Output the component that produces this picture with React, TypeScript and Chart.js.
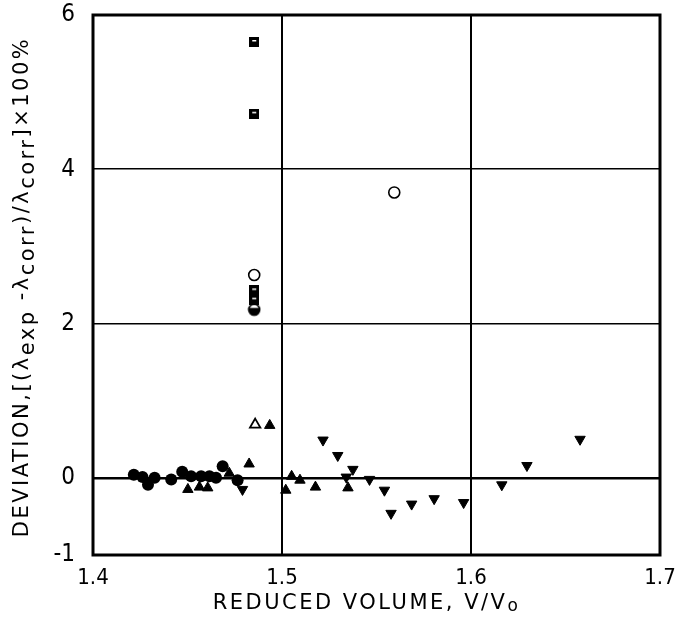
import React, { useEffect, useRef } from "react";
import { Chart, registerables } from "chart.js";
Chart.register(...registerables);

const FONT = "'DejaVu Sans Condensed', 'DejaVu Sans', sans-serif";
const TITLE_FONT = "'DejaVu Sans', sans-serif";

const xTicks = [1.4, 1.5, 1.6, 1.7];
const yTicks = [-1, 0, 2, 4, 6];

const filledCircleX = [1.4216, 1.4262, 1.4291, 1.4326, 1.4414, 1.4472, 1.4519, 1.4572, 1.4616, 1.4651, 1.4686, 1.4765];
const filledCircleY = [0.04, 0.01, -0.09, 0.0, -0.02, 0.08, 0.02, 0.02, 0.02, 0.0, 0.15, -0.03];

const upTriX = [1.4502, 1.4563, 1.4607, 1.4721, 1.4826, 1.4935, 1.502, 1.5051, 1.5095, 1.5177, 1.5349];
const upTriY = [-0.15, -0.12, -0.13, 0.06, 0.18, 0.68, -0.16, 0.02, -0.03, -0.12, -0.13];

const openTriX = [1.4858];
const openTriY = [0.69];

const downTriX = [1.4791, 1.5217, 1.5295, 1.534, 1.5375, 1.5463, 1.5542, 1.5577, 1.5686, 1.5805, 1.5961, 1.6163, 1.6296, 1.6577];
const downTriY = [-0.15, 0.49, 0.29, 0.01, 0.11, -0.02, -0.16, -0.46, -0.34, -0.27, -0.32, -0.09, 0.16, 0.5];

const squareX = [1.4853, 1.4853, 1.4853, 1.4853];
const squareY = [5.65, 4.72, 2.43, 2.31];

const openCircleX = [1.4853, 1.5594];
const openCircleY = [2.63, 3.7];

const halfCircleX = [1.4853];
const halfCircleY = [2.18];

const xTitle = "REDUCED VOLUME, V/V";
const xTitleSub = "o";
const yTitleParts: [string, boolean][] = [
  ["DEVIATION,[(λ", false],
  ["exp", true],
  [" -λ", false],
  ["corr", true],
  [")/λ", false],
  ["corr", true],
  ["]×100%", false],
];

const pts = (xs: number[], ys: number[]) => xs.map((x, i) => ({ x, y: ys[i] }));

export default function App() {
  const ref = useRef<HTMLCanvasElement>(null);
  useEffect(() => {
    document.body.style.margin = "0";

    const half = document.createElement("canvas");
    half.width = 14;
    half.height = 14;
    const hc = half.getContext("2d")!;
    hc.beginPath();
    hc.arc(7, 7, 5.5, 0, Math.PI * 2);
    hc.fillStyle = "#fff";
    hc.fill();
    hc.beginPath();
    hc.arc(7, 7, 5.5, -0.3, Math.PI + 0.3);
    hc.closePath();
    hc.fillStyle = "#000";
    hc.fill();
    hc.beginPath();
    hc.arc(7, 7, 5.5, 0, Math.PI * 2);
    hc.lineWidth = 1.6;
    hc.strokeStyle = "#000";
    hc.stroke();

    const sq = document.createElement("canvas");
    sq.width = 10;
    sq.height = 10;
    const sc = sq.getContext("2d")!;
    sc.fillStyle = "#000";
    sc.fillRect(0, 0, 10, 10);
    sc.fillStyle = "#fff";
    sc.fillRect(3, 3, 4, 1.5);

    const framePlugin = {
      id: "frame",
      afterDraw(chart: any) {
        const { ctx, chartArea: a } = chart;
        ctx.save();
        ctx.strokeStyle = "#000";
        ctx.lineWidth = 3;
        ctx.strokeRect(a.left, a.top, a.right - a.left, a.bottom - a.top);
        ctx.restore();
      },
    };

    const titlePlugin = {
      id: "titles",
      afterDraw(chart: any) {
        const { ctx, chartArea: a } = chart;
        ctx.save();
        ctx.fillStyle = "#000";
        // y title
        ctx.font = `21px ${TITLE_FONT}`;
        (ctx as any).letterSpacing = "2.5px";
        let total = 0;
        for (const [t] of yTitleParts) total += ctx.measureText(t).width;
        ctx.translate(23, (a.top + a.bottom) / 2 + 2);
        ctx.rotate(-Math.PI / 2);
        ctx.textBaseline = "middle";
        ctx.textAlign = "left";
        let x = -total / 2;
        for (const [t, sub] of yTitleParts) {
          ctx.fillText(t, x, sub ? 6 : 0);
          x += ctx.measureText(t).width;
        }
        ctx.restore();

        // x title
        ctx.save();
        ctx.fillStyle = "#000";
        (ctx as any).letterSpacing = "2.5px";
        ctx.font = `21px ${TITLE_FONT}`;
        ctx.textBaseline = "middle";
        ctx.textAlign = "left";
        const w1 = ctx.measureText(xTitle).width;
        ctx.font = `17px ${TITLE_FONT}`;
        const w2 = ctx.measureText(xTitleSub).width;
        const cx = (a.left + a.right) / 2 - 10;
        const sx = cx - (w1 + w2) / 2;
        ctx.font = `21px ${TITLE_FONT}`;
        ctx.fillText(xTitle, sx, 604);
        ctx.font = `17px ${TITLE_FONT}`;
        ctx.fillText(xTitleSub, sx + w1, 607);
        ctx.restore();
      },
    };

    const chart = new Chart(ref.current!, {
      type: "scatter",
      data: {
        datasets: [
          {
            data: pts(filledCircleX, filledCircleY),
            pointStyle: "circle",
            pointRadius: 6,
            backgroundColor: "#000",
            borderColor: "#000",
            borderWidth: 0,
          },
          {
            data: pts(upTriX, upTriY),
            pointStyle: "triangle",
            pointRadius: 6,
            backgroundColor: "#000",
            borderColor: "#000",
            borderWidth: 1,
          },
          {
            data: pts(downTriX, downTriY),
            pointStyle: "triangle",
            pointRotation: 180,
            pointRadius: 6,
            backgroundColor: "#000",
            borderColor: "#000",
            borderWidth: 1,
          },
          {
            data: pts(openTriX, openTriY),
            pointStyle: "triangle",
            pointRadius: 6,
            backgroundColor: "#fff",
            borderColor: "#000",
            borderWidth: 1.8,
          },
          {
            data: pts(squareX, squareY),
            pointStyle: sq as any,
            pointRadius: 5,
          },
          {
            data: pts(openCircleX, openCircleY),
            pointStyle: "circle",
            pointRadius: 5.5,
            backgroundColor: "#fff",
            borderColor: "#000",
            borderWidth: 1.6,
          },
          {
            data: pts(halfCircleX, halfCircleY),
            pointStyle: half as any,
            pointRadius: 6,
          },
        ],
      },
      options: {
        responsive: false,
        animation: false,
        devicePixelRatio: 1,
        layout: { padding: { left: 0, top: 15, right: 15, bottom: 0 } },
        plugins: { legend: { display: false }, tooltip: { enabled: false } },
        scales: {
          x: {
            type: "linear",
            min: 1.4,
            max: 1.7,
            afterBuildTicks: (s: any) => {
              s.ticks = xTicks.map((v) => ({ value: v }));
            },
            afterFit: (s: any) => {
              s.height = 75;
              s.paddingLeft = 0;
              s.paddingRight = 0;
            },
            ticks: {
              callback: (v: any) => Number(v).toFixed(1),
              font: { family: FONT, size: 22 },
              color: "#000",
              padding: 10,
              maxRotation: 0,
              autoSkip: false,
            },
            grid: { color: "#000", lineWidth: 2, drawTicks: false },
            border: { display: false },
          },
          y: {
            type: "linear",
            min: -1,
            max: 6,
            afterBuildTicks: (s: any) => {
              s.ticks = yTicks.map((v) => ({ value: v }));
            },
            afterFit: (s: any) => {
              s.width = 93;
              s.paddingTop = 0;
              s.paddingBottom = 0;
            },
            ticks: {
              callback: (v: any) => String(v),
              font: { family: FONT, size: 24 },
              color: "#000",
              padding: 18,
              autoSkip: false,
            },
            grid: {
              color: "#000",
              lineWidth: (c: any) => (c.tick && c.tick.value === 0 ? 2.5 : 1.6),
              drawTicks: false,
            },
            border: { display: false },
          },
        },
      },
      plugins: [framePlugin, titlePlugin],
    });
    return () => chart.destroy();
  }, []);
  return <canvas ref={ref} width={675} height={630} style={{ display: "block" }} />;
}
